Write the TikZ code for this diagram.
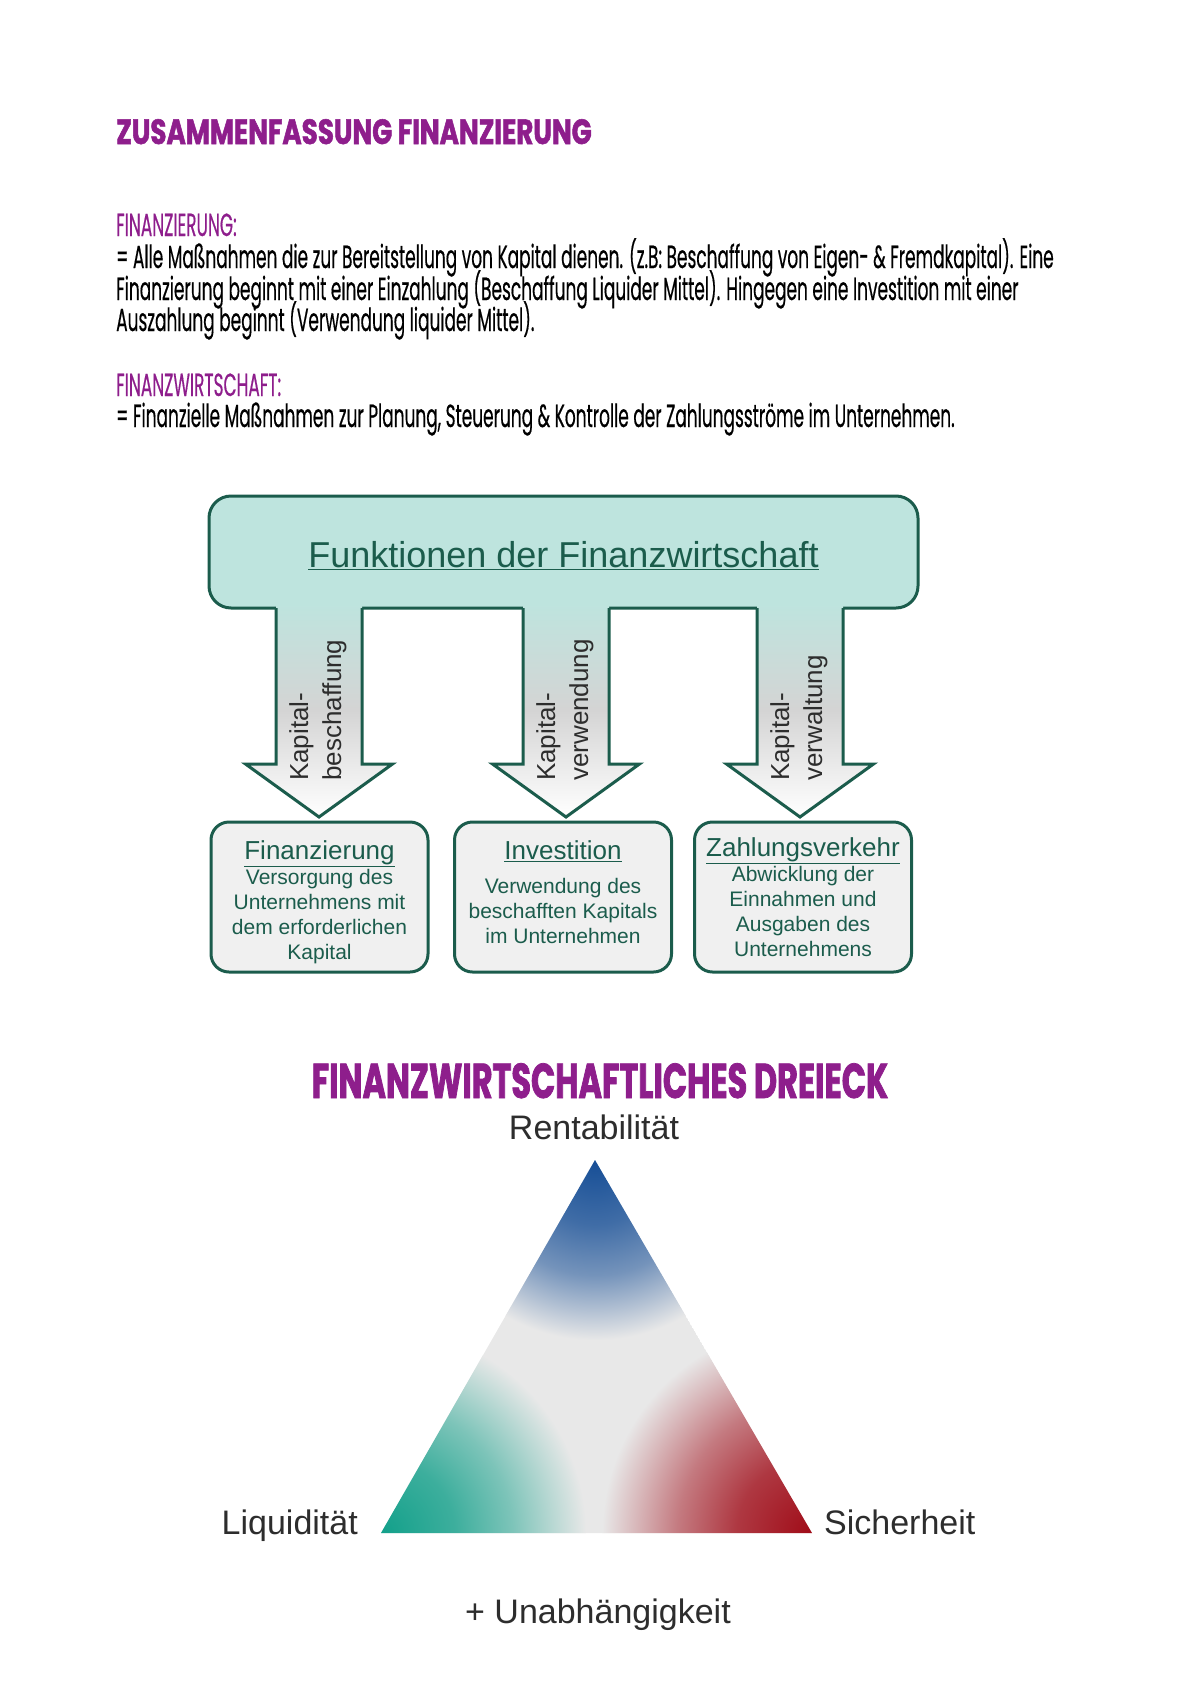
\documentclass[tikz,border=0pt]{standalone}
\usepackage{fontspec}
\setmainfont{Liberation Sans}
\newfontfamily\headfont{Poppins}[FakeStretch=0.75,FakeBold=1.5]
\newfontfamily\bigheadfont{Poppins}[FakeStretch=0.65,FakeBold=1.5]
\newfontfamily\bodyfont{Poppins}[FakeStretch=0.53,FakeBold=0.4]
\newcommand{\fntitlefont}{\fontsize{26}{29}\selectfont}

\definecolor{titlepurple}{RGB}{142,30,140}
\definecolor{fwgreen}{RGB}{27,92,76}
\definecolor{fwteal}{RGB}{190,228,222}
\definecolor{fwgrey}{RGB}{240,240,240}
\definecolor{midgrey}{RGB}{212,212,212}
\definecolor{trigrey}{RGB}{232,232,232}
\definecolor{triblue}{RGB}{22,78,150}
\definecolor{trired}{RGB}{160,12,24}
\definecolor{triteal}{RGB}{18,160,138}
\definecolor{labelgrey}{RGB}{45,45,45}

\pgfdeclareradialshading{bluecorner}{\pgfpoint{0bp}{0bp}}{color(0bp)=(triblue); color(9bp)=(triblue!80!trigrey); color(16bp)=(triblue!55!trigrey); color(21bp)=(triblue!25!trigrey); color(25bp)=(trigrey); color(50bp)=(trigrey)}
\pgfdeclareradialshading{tealcorner}{\pgfpoint{0bp}{0bp}}{color(0bp)=(triteal); color(9bp)=(triteal!80!trigrey); color(16bp)=(triteal!50!trigrey); color(21bp)=(triteal!22!trigrey); color(25bp)=(trigrey); color(50bp)=(trigrey)}
\pgfdeclareradialshading{redcorner}{\pgfpoint{0bp}{0bp}}{color(0bp)=(trired); color(9bp)=(trired!80!trigrey); color(16bp)=(trired!50!trigrey); color(21bp)=(trired!22!trigrey); color(25bp)=(trigrey); color(50bp)=(trigrey)}

\tikzset{
  heading/.style={font=\headfont\bfseries\fontsize{35}{38}\selectfont, text=titlepurple, inner sep=0pt},
  bodytext/.style={font=\bodyfont\fontsize{32}{34}\selectfont, inner sep=0pt, anchor=base west},
  sublabel/.style={bodytext, text=titlepurple},
  topbox/.style={draw=fwgreen, line width=3pt, fill=fwteal, rounded corners=22pt, minimum width=709pt, minimum height=112pt, text=fwgreen, font=\fontsize{36}{40}\selectfont, text height=40pt, text depth=10pt},
  fnbox/.style={draw=fwgreen, line width=3pt, fill=fwgrey, rounded corners=18pt, minimum width=217pt, minimum height=150pt, text=fwgreen, align=center, font=\fontsize{21}{25}\selectfont, inner sep=2pt},
  arrowfill/.style={top color=fwteal, bottom color=white, middle color=midgrey},
  arrowline/.style={draw=fwgreen, line width=3pt},
  arrowtext/.style={rotate=90, anchor=west, align=left, text=labelgrey, font=\fontsize{26}{33}\selectfont, inner sep=0pt},
  trilabel/.style={font=\fontsize{34}{38}\selectfont, text=labelgrey, inner sep=0pt}
}

\begin{document}
\begin{tikzpicture}[x=1pt,y=-1pt]
  \useasboundingbox (0,0) rectangle (1200,1697);

  % text at the top
  \node[heading, anchor=base west] (head) at (116,144) {ZUSAMMENFASSUNG FINANZIERUNG};
  \node[sublabel] (finlabel) at (116,236) {FINANZIERUNG:};
  \node[bodytext] (line1) at (116,268) {= Alle Maßnahmen die zur Bereitstellung von Kapital dienen. (z.B: Beschaffung von Eigen- \& Fremdkapital). Eine};
  \node[bodytext] (line2) at (116,300) {Finanzierung beginnt mit einer Einzahlung (Beschaffung Liquider Mittel). Hingegen eine Investition mit einer};
  \node[bodytext] (line3) at (116,331) {Auszahlung beginnt (Verwendung liquider Mittel).};
  \node[sublabel] (fwlabel) at (116,396) {FINANZWIRTSCHAFT:};
  \node[bodytext] (line4) at (116,427) {= Finanzielle Maßnahmen zur Planung, Steuerung \& Kontrolle der Zahlungsströme im Unternehmen.};

  % functions
  \node[topbox] (fw) at (563.5,552) {\underline{Funktionen der Finanzwirtschaft}};
  \foreach \ax in {319,566,800} {
    \shade[arrowfill] (\ax-43,603) -- (\ax-43,764) -- (\ax-73.5,764) -- (\ax,817) -- (\ax+73.5,764) -- (\ax+43,764) -- (\ax+43,603) -- cycle;
    \draw[arrowline] (\ax-43,608) -- (\ax-43,764) -- (\ax-73.5,764) -- (\ax,817) -- (\ax+73.5,764) -- (\ax+43,764) -- (\ax+43,608);
  }
  \node[arrowtext] (kb) at (318,781) {Kapital-\\beschaffung};
  \node[arrowtext] (kv) at (565,781) {Kapital-\\verwendung};
  \node[arrowtext] (kw) at (799,781) {Kapital-\\verwaltung};

  \node[fnbox] (finz) at (319.5,897) {{\fntitlefont\rule{0pt}{30pt}\underline{Finanzierung}}\\Versorgung des\\Unternehmens mit\\dem erforderlichen\\Kapital};
  \node[fnbox] (inv) at (563,897) {{\fntitlefont\underline{Investition}}\\[9pt]Verwendung des\\beschafften Kapitals\\im Unternehmen\rule[-9pt]{0pt}{0pt}};
  \node[fnbox] (zv) at (803,897) {{\fntitlefont\underline{Zahlungsverkehr}}\\Abwicklung der\\Einnahmen und\\Ausgaben des\\Unternehmens};

  % triangle
  \node[heading, font=\bigheadfont\bfseries\fontsize{49}{52}\selectfont, anchor=base] (tri) at (600,1098) {FINANZWIRTSCHAFTLICHES DREIECK};
  \coordinate (apex) at (595,1160);
  \coordinate (lq) at (381,1533);
  \coordinate (sh) at (812,1533);
  \begin{scope}
    \clip (apex) -- (lq) -- (sh) -- cycle;
    \fill[trigrey] (apex) -- (lq) -- (sh) -- cycle;
    \shade[shading=bluecorner] (apex) circle[radius=180pt];
    \shade[shading=tealcorner] (lq) circle[radius=205pt];
    \shade[shading=redcorner] (sh) circle[radius=210pt];
  \end{scope}
  \node[trilabel, anchor=base] (rent) at (594,1139) {Rentabilität};
  \node[trilabel, anchor=base east] (liq) at (358,1534) {Liquidität};
  \node[trilabel, anchor=base west] (sich) at (824,1534) {Sicherheit};
  \node[trilabel, anchor=base] (unab) at (598,1623) {+ Unabhängigkeit};
\end{tikzpicture}
\end{document}
